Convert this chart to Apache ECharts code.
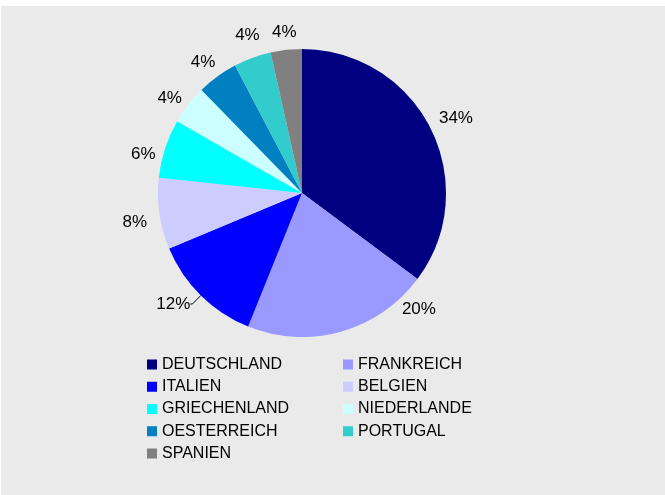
<!DOCTYPE html>
<html>
<head>
<meta charset="utf-8">
<script src="https://cdn.jsdelivr.net/npm/echarts@6/dist/echarts.min.js"></script>
<style>
html,body{margin:0;padding:0;background:#fff;}
#chart{width:665px;height:495px;}
</style>
</head>
<body>
<div id="chart"></div>
<script>
const categories = ['DEUTSCHLAND','FRANKREICH','ITALIEN','BELGIEN','GRIECHENLAND','NIEDERLANDE','OESTERREICH','PORTUGAL','SPANIEN'];
const shares = [35.2, 20.9, 12.6, 8.0, 6.6, 4.4, 4.6, 4.2, 3.5];
const shareLabels = ['34%','20%','12%','8%','6%','4%','4%','4%','4%'];
const sliceColors = ['#000080','#9999FF','#0000FF','#CCCCFF','#00FFFF','#CCFFFF','#0080C0','#33CCCC','#808080'];
const legendLeftCol = ['DEUTSCHLAND','ITALIEN','GRIECHENLAND','OESTERREICH','SPANIEN'];
const legendRightCol = ['FRANKREICH','BELGIEN','NIEDERLANDE','PORTUGAL'];
// label nudges (style only): [dx, dy] in px relative to the ring-centred position
const labelNudge = [[2, 2], [71, -47], [0, 0], [1, 5], [3, 14], [2, 10], [1, 7], [4, 2], [1, 8]];

const FONT = '"Liberation Sans", Arial, Helvetica, sans-serif';
const LINE_LABEL = 'ITALIEN';

function nudgePadding(n) {
  const dx = n[0];
  return [0, Math.max(0, -2 * dx), 0, Math.max(0, 2 * dx)];
}

const chart = echarts.init(document.getElementById('chart'), null, {renderer: 'canvas'});

const pieData = categories.map((c, i) => {
  const d = {name: c, value: shares[i], itemStyle: {color: sliceColors[i]}};
  if (c === LINE_LABEL) {
    d.label = {show: true, position: 'outside', distanceToLabelLine: 0,
      formatter: () => shareLabels[i]};
    d.labelLine = {show: true, length: 12, length2: 2,
      lineStyle: {color: '#000', width: 1}};
  }
  return d;
});

const ringData = categories.map((c, i) => {
  const d = {name: c, value: shares[i]};
  if (c === LINE_LABEL) d.label = {show: false};
  else d.label = {padding: nudgePadding(labelNudge[i]), offset: [0, labelNudge[i][1]]};
  return d;
});

const legendBase = {
  orient: 'vertical',
  itemWidth: 10,
  itemHeight: 10,
  itemGap: 0.25,
  padding: 0,
  icon: 'rect',
  selectedMode: false,
  textStyle: {fontFamily: FONT, fontSize: 16, color: '#000', lineHeight: 22}
};

chart.setOption({
  backgroundColor: '#ffffff',
  animation: false,
  graphic: [{
    type: 'rect', silent: true, z: -10,
    shape: {x: 1, y: 6, width: 664, height: 489},
    style: {fill: '#eaeaea'}
  }],
  legend: [
    Object.assign({}, legendBase, {left: 147, top: 353.5, data: legendLeftCol}),
    Object.assign({}, legendBase, {left: 343, top: 353.5, data: legendRightCol})
  ],
  series: [
    {
      type: 'pie',
      name: 'main',
      center: [302, 193],
      radius: 144,
      startAngle: 90,
      clockwise: true,
      avoidLabelOverlap: false,
      emphasis: {disabled: true},
      itemStyle: {borderWidth: 0},
      label: {show: false, fontFamily: FONT, fontSize: 17, color: '#000'},
      labelLine: {show: false},
      data: pieData
    },
    {
      type: 'pie',
      name: 'labels',
      center: [302, 193],
      radius: [150, 184],
      startAngle: 90,
      clockwise: true,
      silent: true,
      emphasis: {disabled: true},
      itemStyle: {color: 'rgba(0,0,0,0)', borderWidth: 0},
      label: {
        show: true, position: 'inside', fontFamily: FONT, fontSize: 17, color: '#000',
        formatter: p => shareLabels[p.dataIndex]
      },
      labelLine: {show: false},
      data: ringData
    }
  ]
});
</script>
</body>
</html>
